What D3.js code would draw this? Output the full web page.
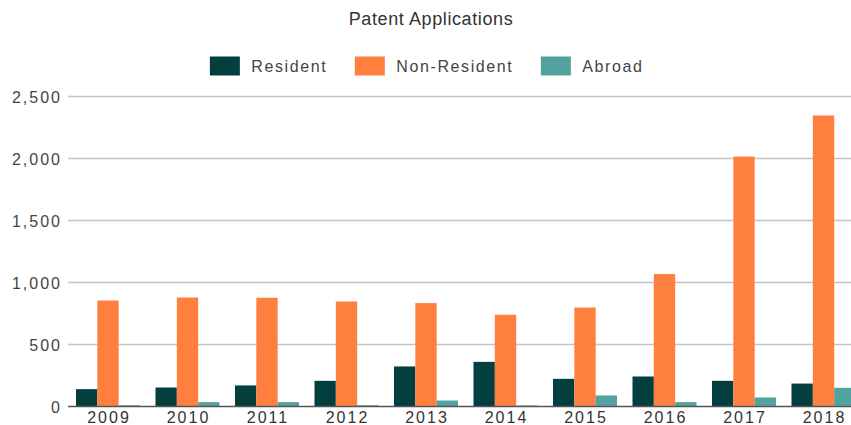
<!DOCTYPE html>
<html>
<head>
<meta charset="utf-8">
<script src="https://cdn.jsdelivr.net/npm/d3@7"></script>
<style>
  html, body { margin: 0; padding: 0; background: #fff; overflow: hidden; }
  svg { display: block; font-family: "Liberation Sans", Arial, sans-serif; }
</style>
</head>
<body>
<svg id="chart" width="851" height="425"></svg>
<script>
const years = ["2009","2010","2011","2012","2013","2014","2015","2016","2017","2018"];
const seriesNames = ["Resident", "Non-Resident", "Abroad"];
const resident    = [140, 153, 170, 207, 323, 360, 223, 242, 207, 185];
const nonResident = [855, 879, 877, 847, 834, 740, 798, 1068, 2016, 2347];
const abroad      = [10, 35, 35, 10, 48, 8, 89, 35, 73, 151];
const yTicks = [0, 500, 1000, 1500, 2000, 2500];
const colors = ["#033f3f", "#ff7f3e", "#52a3a0"];
const title = "Patent Applications";

const svg = d3.select("#chart");
const W = 851, H = 425;

const values = [resident, nonResident, abroad];
const table = years.map((yr, i) => ({ year: yr, vals: values.map(v => v[i]) }));

const x0 = d3.scaleBand().domain(years).range([68.25, 863.25])
  .paddingInner(0.195).paddingOuter(0.0975);
const x1 = d3.scaleBand().domain(seriesNames).range([0, x0.bandwidth()]).padding(0);
const y = d3.scaleLinear().domain([0, 2500]).range([406.5, 96.5]);

// gridlines
const grid = svg.append("g");
grid.selectAll("line").data(yTicks.filter(t => t > 0)).join("line")
  .attr("x1", 68).attr("x2", W)
  .attr("y1", d => y(d)).attr("y2", d => y(d))
  .attr("stroke", "#c4c4c4").attr("stroke-width", 1.5);

// y axis labels
const yAxis = d3.axisLeft(y).tickValues(yTicks).tickSize(0).tickPadding(0)
  .tickFormat(d3.format(","));
const yg = svg.append("g").attr("transform", "translate(62,0)").call(yAxis);
yg.select(".domain").remove();
yg.selectAll("text").attr("font-size", 16).attr("fill", "#444")
  .style("letter-spacing", "2px").attr("font-family", "Liberation Sans, Arial, sans-serif")
  .attr("dy", "0.35em");

// bars
const groups = svg.append("g").selectAll("g").data(table).join("g")
  .attr("transform", d => `translate(${x0(d.year)},0)`);
groups.selectAll("rect").data(d => d.vals.map((v, k) => ({ k, v }))).join("rect")
  .attr("x", d => x1(seriesNames[d.k]))
  .attr("width", x1.bandwidth())
  .attr("y", d => y(d.v))
  .attr("height", d => y(0) - y(d.v))
  .attr("fill", d => colors[d.k]);

// baseline
svg.append("line").attr("x1", 68).attr("x2", W)
  .attr("y1", y(0)).attr("y2", y(0))
  .attr("stroke", "#555").attr("stroke-width", 1.5);

// x axis labels
const xAxis = d3.axisBottom(x0).tickSize(0).tickPadding(0);
const xg = svg.append("g").attr("transform", `translate(0,${y(0)})`).call(xAxis);
xg.select(".domain").remove();
xg.selectAll("text").attr("font-size", 16).attr("fill", "#333")
  .style("letter-spacing", "2px").attr("font-family", "Liberation Sans, Arial, sans-serif")
  .attr("dx", "1px").attr("y", 16.5).attr("dy", 0);

// title
svg.append("text").attr("x", 431).attr("y", 25).attr("text-anchor", "middle")
  .attr("font-size", 18).attr("fill", "#333").style("letter-spacing", "0.6px")
  .text(title);

// legend
const leg = svg.append("g");
const items = leg.selectAll("g").data(seriesNames).join("g");
items.append("rect").attr("width", 30).attr("height", 19).attr("y", 56.5)
  .attr("fill", (d, i) => colors[i]);
items.append("text").attr("x", 41.5).attr("y", 71.5)
  .attr("font-size", 16).attr("fill", "#444").style("letter-spacing", "1.6px")
  .text(d => d);
let cx = 0;
const offsets = [];
items.each(function() {
  const t = d3.select(this).select("text").node().getComputedTextLength();
  offsets.push(cx);
  cx += 41.5 + t + 27.5;
});
const total = cx - 27.5;
const start = 426.7 - total / 2;
items.attr("transform", (d, i) => `translate(${start + offsets[i]},0)`);
</script>
</body>
</html>
